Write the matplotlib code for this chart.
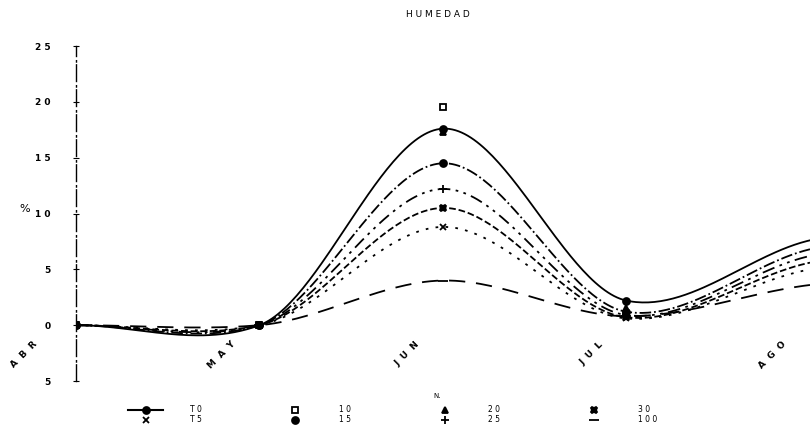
import numpy as np
import matplotlib.pyplot as plt

meses = ["ABR", "MAY", "JUN", "JUL", "AGO"]
etiquetas = ["T 0", "T 5", "1 0", "1 5", "2 0", "2 5", "3 0", "1 0 0"]

s1 = [0, 0, 17.6, 2.2, 7.6]
s2 = [0, 0, 8.8, 0.6, 5.0]
s3 = [0, 0, 19.5, 1.0, 6.8]
s4 = [0, 0, 14.5, 1.2, 6.8]
s5 = [0, 0, 17.3, 1.5, 7.2]
s6 = [0, 0, 12.2, 0.9, 6.2]
s7 = [0, 0, 10.5, 0.7, 5.6]
s8 = [0, 0, 4.0, 0.8, 3.6]

yticks = [-5, 0, 5, 10, 15, 20, 25]
ytick_labels = ["5", "0", "5", "1 0", "1 5", "2 0", "2 5"]


def suaviza(x, y, c=0.3, n=60):
    # cardinal spline, similar to the old plotter smoothing
    x = np.asarray(x, float)
    y = np.asarray(y, float)
    m = np.zeros(len(y))
    m[1:-1] = (y[2:] - y[:-2]) / 2
    m[0] = y[1] - y[0]
    m[-1] = y[-1] - y[-2]
    m *= (1 - c)
    xs, ys = [], []
    for i in range(len(x) - 1):
        t = np.linspace(0, 1, n)
        h00 = 2 * t**3 - 3 * t**2 + 1
        h10 = t**3 - 2 * t**2 + t
        h01 = -2 * t**3 + 3 * t**2
        h11 = t**3 - t**2
        xs.append(x[i] + t * (x[i + 1] - x[i]))
        ys.append(h00 * y[i] + h10 * m[i] + h01 * y[i + 1] + h11 * m[i + 1])
    return np.concatenate(xs), np.concatenate(ys)


series = [
    (s1, "o", "-", 5),
    (s2, "x", (0, (1.5, 4)), 5),
    (s3, "s", "none", 5),
    (s4, "o", "-.", 5),
    (s5, "^", "none", 5),
    (s6, "+", (0, (7, 3, 1.5, 3, 1.5, 3)), 6),
    (s7, "X", "--", 5),
    (s8, "_", (0, (9, 6)), 7),
]

fig = plt.figure(figsize=(8.1, 4.25), dpi=100)
ax = fig.add_axes([0.0938, 0.1035, 0.9062, 0.7882])

x = np.arange(len(meses))
handles = []
for (vals, mk, ls, ms), lab in zip(series, etiquetas):
    if ls != "none":
        xs, ys = suaviza(x, vals)
        ax.plot(xs, ys, color="black", linestyle=ls, linewidth=1.3)
    fc = "white" if mk == "s" else "black"
    ax.plot(x[:4], vals[:4], linestyle="none", marker=mk, markersize=ms,
            color="black", markerfacecolor=fc, markeredgewidth=1.3)
    h, = ax.plot([], [], color="black", linestyle=ls if lab == etiquetas[0] else "none",
                 marker=mk, markersize=ms, markerfacecolor=fc, markeredgewidth=1.3,
                 label=lab)
    handles.append(h)

ax.set_xlim(0, 4)
ax.set_ylim(-5, 25)
ax.set_xticks([])
ax.set_yticks(yticks)
ax.set_yticklabels(ytick_labels, fontsize=6.5, fontweight="bold")
ax.tick_params(axis="y", length=4, direction="inout", pad=16)
for sp in ["top", "right", "bottom"]:
    ax.spines[sp].set_visible(False)
ax.spines["left"].set_linestyle((0, (12, 2, 1, 3)))
ax.spines["left"].set_linewidth(1.0)

for i, m in enumerate(meses):
    dx = 0.2 if i == 0 else 0.12
    ax.text(i - dx, -1.3, "  ".join(m), rotation=45, ha="right", va="top",
            fontsize=6.5, fontweight="bold")

ax.set_ylabel("%", rotation=0, fontsize=8)
ax.yaxis.set_label_coords(-0.07, 0.5)

fig.text(0.54, 0.965, "H U M E D A D", ha="center", va="center", fontsize=6.5)
fig.text(0.54, 0.068, "N.", ha="center", va="center", fontsize=5)

fig.legend(handles=handles, ncol=4, loc="center", bbox_to_anchor=(0.485, 0.024),
           frameon=False, fontsize=5.5, handlelength=4.5, handletextpad=3.5,
           columnspacing=10, labelspacing=0.1)

fig.savefig("out.png", dpi=100)
